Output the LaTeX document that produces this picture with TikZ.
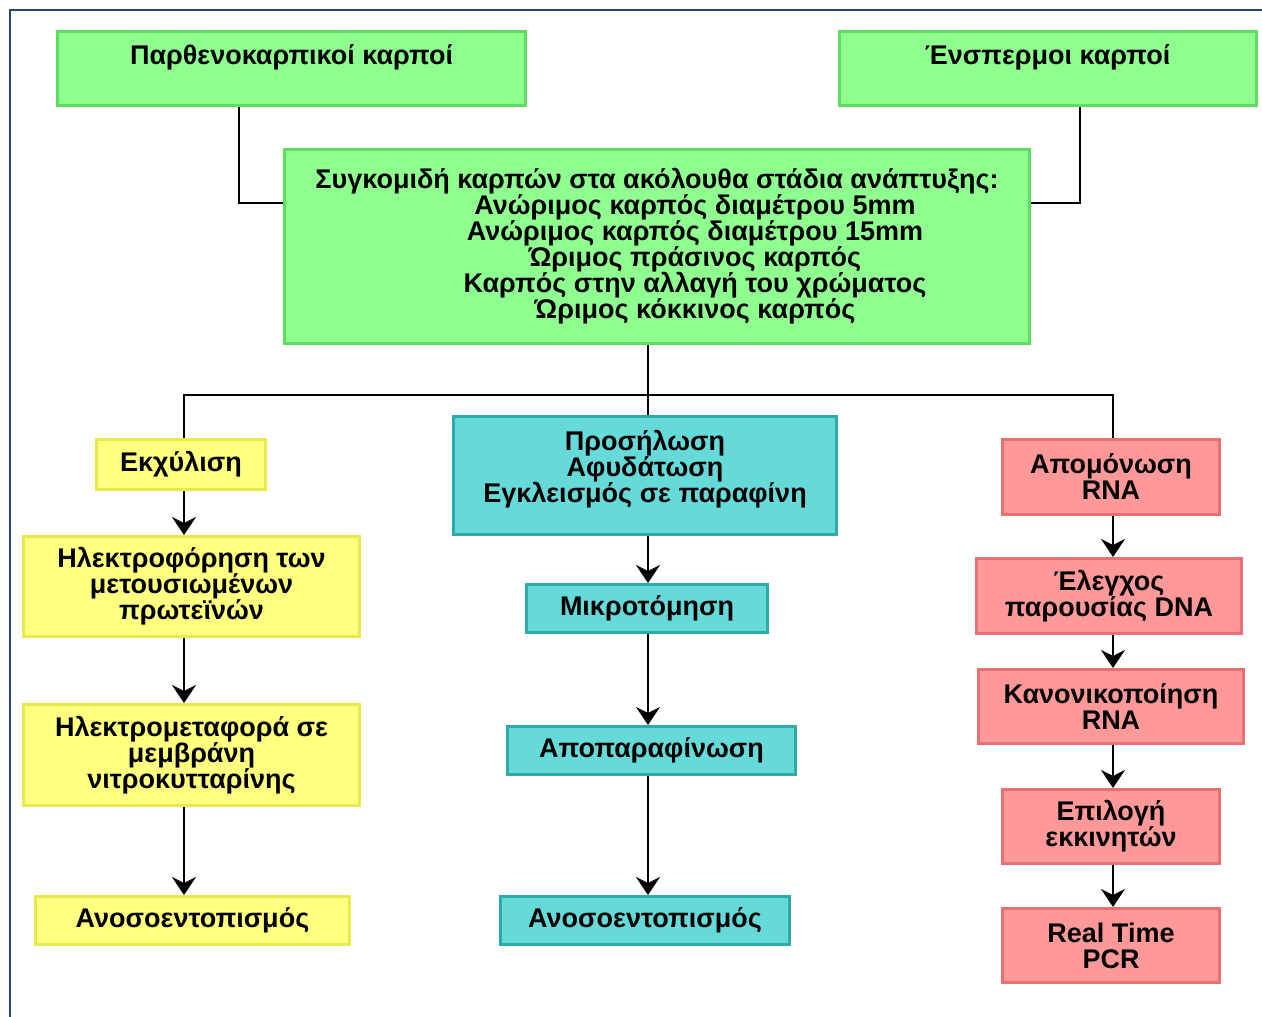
\documentclass[tikz,border=0pt]{standalone}
\usepackage{fontspec}
\setmainfont{Liberation Sans}
\usetikzlibrary{arrows.meta}
\definecolor{framecol}{RGB}{31,73,125}
\definecolor{greenfill}{RGB}{143,255,143}
\definecolor{greenedge}{RGB}{94,222,94}
\definecolor{yellowfill}{RGB}{255,255,128}
\definecolor{yellowedge}{RGB}{232,232,80}
\definecolor{cyanfill}{RGB}{102,217,217}
\definecolor{cyanedge}{RGB}{46,170,170}
\definecolor{redfill}{RGB}{255,153,153}
\definecolor{rededge}{RGB}{232,112,112}
\newcommand{\indentline}{\hspace*{76pt}}
\begin{document}
\begin{tikzpicture}[x=1pt,y=-1pt]

    \tikzset{box/.style={draw,line width=3pt,align=center,inner sep=0pt,
        font=\fontsize{27}{26}\selectfont\bfseries},
      greenbox/.style={box,fill=greenfill,draw=greenedge},
      yellowbox/.style={box,fill=yellowfill,draw=yellowedge},
      cyanbox/.style={box,fill=cyanfill,draw=cyanedge},
      redbox/.style={box,fill=redfill,draw=rededge}}
    \useasboundingbox (0,0) rectangle (1262,1017);
    \draw[framecol,line width=2pt] (10,1017) -- (10,10) -- (1262,10);

    % top row
    \node[greenbox,minimum width=468,minimum height=74,text depth=28pt] (parth) at (291.5,68.5) {Παρθενοκαρπικοί καρποί};
    \node[greenbox,minimum width=417,minimum height=74,text depth=28pt] (ensp) at (1047.5,68.5) {Ένσπερμοι καρποί};
    \node[greenbox,minimum width=745,minimum height=194] (harv) at (657,246) {Συγκομιδή καρπών στα ακόλουθα στάδια ανάπτυξης:\\
      \indentline Ανώριμος καρπός διαμέτρου 5mm\\\indentline Ανώριμος καρπός διαμέτρου 15mm\\
      \indentline Ώριμος πράσινος καρπός\\\indentline Καρπός στην αλλαγή του χρώματος\\
      \indentline Ώριμος κόκκινος καρπός};

    % left column
    \node[yellowbox,minimum width=169,minimum height=50] (extr) at (181,464.5) {Εκχύλιση};
    \node[yellowbox,minimum width=336,minimum height=100] (elph) at (191.5,586.5) {Ηλεκτροφόρηση των\\μετουσιωμένων\\πρωτεϊνών};
    \node[yellowbox,minimum width=336,minimum height=101] (blot) at (191.5,755) {Ηλεκτρομεταφορά σε\\μεμβράνη\\νιτροκυτταρίνης};
    \node[yellowbox,minimum width=314,minimum height=48] (immL) at (192.5,920.5) {Ανοσοεντοπισμός};

    % middle column
    \node[cyanbox,minimum width=383,minimum height=118] (fix) at (645,475.5) {Προσήλωση\\Αφυδάτωση\\Εγκλεισμός σε παραφίνη\\[-8pt]\mbox{}};
    \node[cyanbox,minimum width=241,minimum height=48] (micro) at (647,608.5) {Μικροτόμηση};
    \node[cyanbox,minimum width=288,minimum height=48] (depar) at (651.5,750.5) {Αποπαραφίνωση};
    \node[cyanbox,minimum width=289,minimum height=48] (immM) at (645,920.5) {Ανοσοεντοπισμός};

    % right column
    \node[redbox,minimum width=217,minimum height=75] (rna) at (1111,477) {Απομόνωση\\RNA};
    \node[redbox,minimum width=265,minimum height=75] (dna) at (1109,596) {Έλεγχος\\παρουσίας DNA};
    \node[redbox,minimum width=265,minimum height=74] (norm) at (1111,706.5) {Κανονικοποίηση\\RNA};
    \node[redbox,minimum width=217,minimum height=74] (prim) at (1111,826.5) {Επιλογή\\εκκινητών};
    \node[redbox,minimum width=217,minimum height=74] (pcr) at (1111,945.5) {Real Time\\PCR};

    \coordinate (ja) at (239,203);
    \coordinate (jb) at (1080,203);
    \coordinate (jl) at (184,395);
    \coordinate (jm) at (648,395);
    \coordinate (jr) at (1113,395);

    \begin{scope}[every path/.style={line width=2pt}]
        \draw (parth.south -| ja) |- (harv.west |- ja);
        \draw (ensp.south -| jb) |- (harv.east |- jb);
        \draw (harv.south -| jm) -- (fix.north -| jm);
        \draw (extr.north -| jl) -- (jl) -- (jr) -- (rna.north -| jr);
    \end{scope}

    \begin{scope}[every path/.style={-{Stealth[length=18pt,width=24pt,inset=6pt]},line width=2pt}]
        \draw (extr.south -| jl) -- (elph.north -| jl);
        \draw (elph.south -| jl) -- (blot.north -| jl);
        \draw (blot.south -| jl) -- (immL.north -| jl);

        \draw (fix.south -| jm) -- (micro.north -| jm);
        \draw (micro.south -| jm) -- (depar.north -| jm);
        \draw (depar.south -| jm) -- (immM.north -| jm);

        \draw (rna.south -| jr) -- (dna.north -| jr);
        \draw (dna.south -| jr) -- (norm.north -| jr);
        \draw (norm.south -| jr) -- (prim.north -| jr);
        \draw (prim.south -| jr) -- (pcr.north -| jr);
    \end{scope}
\end{tikzpicture}
\end{document}
